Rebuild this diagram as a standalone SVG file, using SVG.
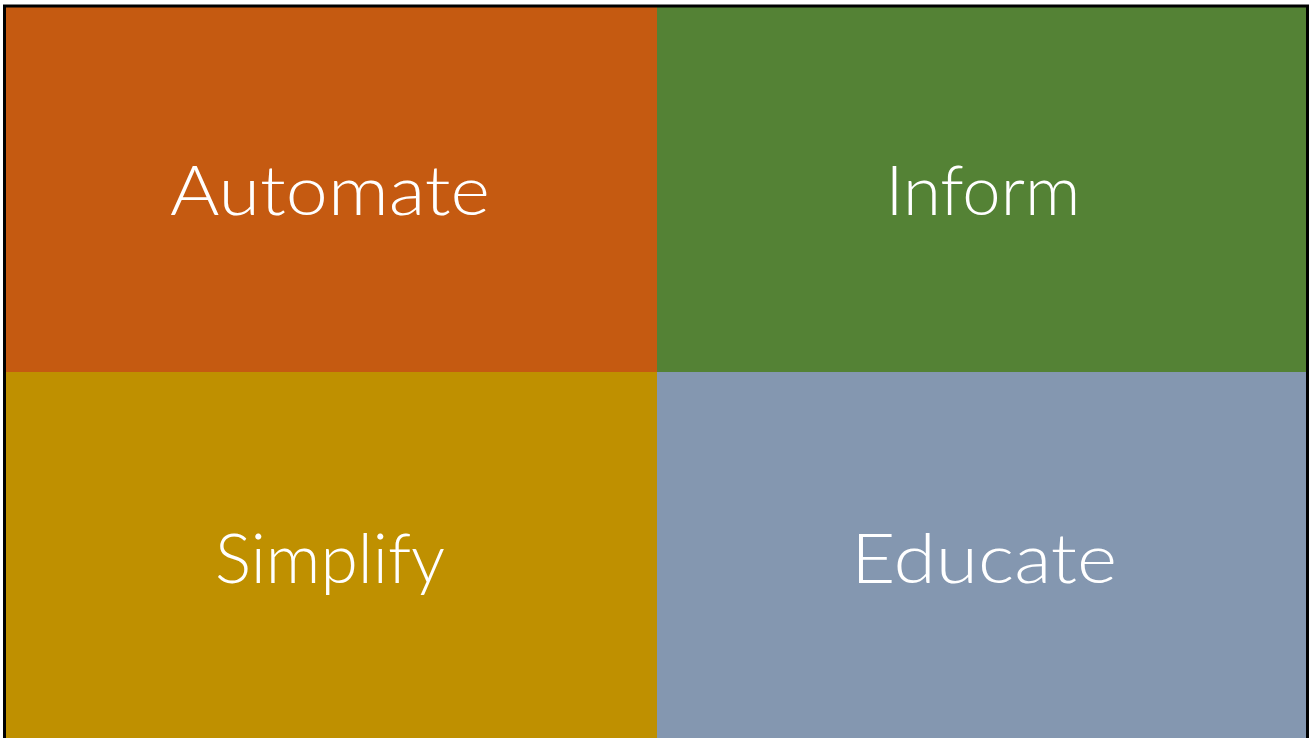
<svg xmlns="http://www.w3.org/2000/svg" width="1310" height="738" viewBox="0 0 1310 738">
<style>
.lbl{font-family:"Lato","Liberation Sans",sans-serif;font-size:68px;font-weight:300;fill:#ffffff;text-anchor:middle;}
</style>
<rect width="1310" height="738" fill="#ffffff"/>
<g id="automate"><rect x="5" y="6" width="652" height="366" fill="#C55A11"/><text class="lbl" x="330" y="215" textLength="320" lengthAdjust="spacingAndGlyphs">Automate</text></g>
<g id="inform"><rect x="657" y="6" width="650" height="366" fill="#548235"/><text class="lbl" x="983" y="215" textLength="195" lengthAdjust="spacingAndGlyphs">Inform</text></g>
<g id="simplify"><rect x="5" y="372" width="652" height="370" fill="#BF9000"/><text class="lbl" x="330" y="583" textLength="230" lengthAdjust="spacingAndGlyphs">Simplify</text></g>
<g id="educate"><rect x="657" y="372" width="650" height="370" fill="#8497B0"/><text class="lbl" x="984" y="583" textLength="266" lengthAdjust="spacingAndGlyphs">Educate</text></g>
<rect x="4.5" y="6" width="1303" height="740" fill="none" stroke="#000000" stroke-width="3"/>
</svg>
